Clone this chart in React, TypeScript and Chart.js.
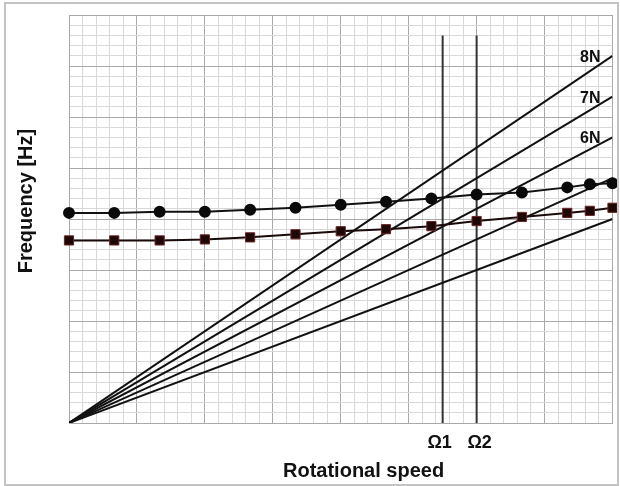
import React, { useEffect, useRef } from 'react';
import { Chart, registerables } from 'chart.js';

Chart.register(...registerables);

// Rotational speed samples (axis units) for the two measured modes
const speedSteps = [0, 3.33, 6.67, 10, 13.33, 16.67, 20, 23.33, 26.67, 30, 33.33, 36.67, 38.33, 40];
const upperMode = [20.6, 20.6, 20.7, 20.7, 20.9, 21.1, 21.4, 21.7, 22.0, 22.4, 22.6, 23.1, 23.4, 23.5];
const lowerMode = [17.9, 17.9, 17.9, 18.0, 18.2, 18.5, 18.8, 19.0, 19.3, 19.8, 20.2, 20.6, 20.8, 21.1];

// Engine-order lines: value reached at the right end of the axis
const orderLineEnds = [36, 32, 28, 24, 20];
const orderLabels = ['8N', '7N', '6N', '', ''];

// Critical speeds
const omegaSpeeds = [27.5, 30];
const omegaLabels = ['Ω1', 'Ω2'];
const omegaTop = 38;

const axisMin = 0;
const axisMax = 40;

const FONT = '"Liberation Sans", Arial, sans-serif';
const MINOR = '#d8d8d8';
const MAJOR = '#a9a9a9';

const annotations = {
  id: 'campbellText',
  afterDraw(chart: any) {
    const { ctx, chartArea, scales } = chart;
    const xs = scales.x;
    const ys = scales.y;
    ctx.save();
    ctx.fillStyle = '#111';

    // order labels near the line ends
    ctx.font = `bold 16px ${FONT}`;
    ctx.textAlign = 'right';
    ctx.textBaseline = 'alphabetic';
    orderLineEnds.forEach((v, i) => {
      const label = orderLabels[i];
      if (!label) return;
      ctx.fillText(label, xs.getPixelForValue(axisMax) - 12, ys.getPixelForValue(v) + 6);
    });

    // critical speed labels under the axis, nudged apart
    ctx.font = `bold 18px ${FONT}`;
    ctx.textAlign = 'center';
    omegaSpeeds.forEach((s, i) => {
      const nudge = i === 0 ? -3 : 3;
      ctx.fillText(omegaLabels[i], xs.getPixelForValue(s) + nudge, chartArea.bottom + 25);
    });

    // axis titles
    ctx.font = `bold 20px ${FONT}`;
    ctx.fillText('Rotational speed', chartArea.left + chartArea.width * 0.542, chartArea.bottom + 54);
    ctx.save();
    ctx.translate(chartArea.left - 43, chartArea.top + chartArea.height * 0.456);
    ctx.rotate(-Math.PI / 2);
    ctx.textBaseline = 'middle';
    ctx.fillText('Frequency [Hz]', 0, 0);
    ctx.restore();

    // frame
    ctx.strokeStyle = '#c4c4c4';
    ctx.lineWidth = 2;
    ctx.strokeRect(5, 3, chart.width - 7, chart.height - 4);
    ctx.restore();
  },
};

export default function App() {
  const canvasRef = useRef<HTMLCanvasElement | null>(null);

  useEffect(() => {
    if (!canvasRef.current) return;

    const seriesPoints = (ys: number[]) => speedSteps.map((x, i) => ({ x, y: ys[i] }));

    const datasets: any[] = [
      {
        data: seriesPoints(upperMode),
        borderColor: '#111',
        borderWidth: 2,
        pointStyle: 'circle',
        pointRadius: 5,
        pointBackgroundColor: '#0a0a0a',
        pointBorderColor: '#0a0a0a',
        showLine: true,
        clip: false,
      },
      {
        data: seriesPoints(lowerMode),
        borderColor: '#1a0a0a',
        borderWidth: 2,
        pointStyle: 'rect',
        pointRadius: 6.5,
        pointBackgroundColor: '#1e0707',
        pointBorderColor: '#6b2424',
        pointBorderWidth: 1,
        showLine: true,
        clip: false,
      },
      ...orderLineEnds.map((end) => ({
        data: [
          { x: axisMin, y: axisMin },
          { x: axisMax, y: end },
        ],
        borderColor: '#111',
        borderWidth: 2,
        pointRadius: 0,
        showLine: true,
      })),
      ...omegaSpeeds.map((s) => ({
        data: [
          { x: s, y: axisMin },
          { x: s, y: omegaTop },
        ],
        borderColor: '#333',
        borderWidth: 2,
        pointRadius: 0,
        showLine: true,
      })),
    ];

    const gridColor = (c: any) => (c.tick && c.tick.value % 5 === 0 ? MAJOR : MINOR);

    const chart = new Chart(canvasRef.current, {
      type: 'scatter',
      data: { datasets },
      plugins: [annotations],
      options: {
        responsive: false,
        animation: false,
        layout: { padding: { top: 15, right: 7, left: 0, bottom: 0 } },
        plugins: { legend: { display: false }, tooltip: { enabled: false } },
        scales: {
          x: {
            type: 'linear',
            min: axisMin,
            max: axisMax,
            ticks: { stepSize: 1, display: false },
            grid: { color: gridColor, lineWidth: 1, drawTicks: false },
            border: { display: true, color: MAJOR, width: 1 },
            afterFit: (scale: any) => {
              scale.height = 63;
            },
          },
          y: {
            type: 'linear',
            min: axisMin,
            max: axisMax,
            ticks: { stepSize: 1, display: false },
            grid: { color: gridColor, lineWidth: 1, drawTicks: false },
            border: { display: true, color: MAJOR, width: 1 },
            afterFit: (scale: any) => {
              scale.width = 69;
            },
          },
        },
      } as any,
    });

    return () => chart.destroy();
  }, []);

  return (
    <div style={{ position: 'absolute', left: 0, top: 0, width: 620, height: 486, background: '#fff' }}>
      <canvas ref={canvasRef} width={620} height={486} />
    </div>
  );
}
